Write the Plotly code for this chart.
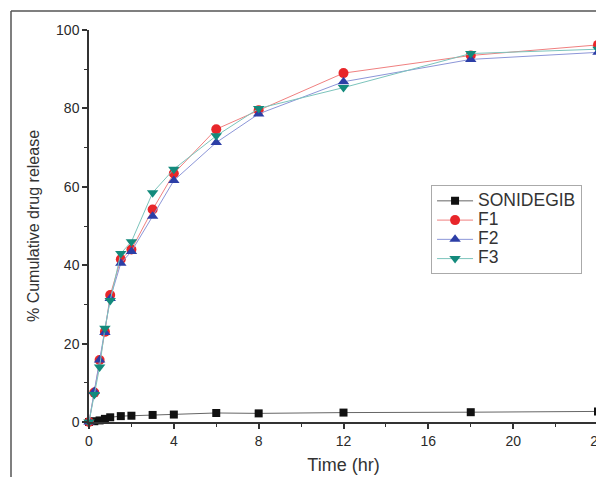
import plotly.graph_objects as go

time_hr = [0, 0.25, 0.5, 0.75, 1, 1.5, 2, 3, 4, 6, 8, 12, 18, 24]
sonidegib = [0, 0.2, 0.4, 0.8, 1.2, 1.5, 1.6, 1.8, 1.9, 2.3, 2.2, 2.4, 2.5, 2.7]
f1 = [0, 7.5, 15.8, 23.0, 32.4, 41.5, 44.0, 54.2, 63.4, 74.7, 79.5, 89.0, 93.5, 96.2]
f2 = [0, 7.8, 15.8, 22.8, 31.5, 40.5, 43.5, 52.5, 61.6, 71.3, 78.6, 86.8, 92.5, 94.3]
f3 = [0, 7.0, 14.0, 23.9, 31.0, 43.0, 46.0, 58.5, 64.5, 73.0, 80.0, 85.3, 94.0, 95.1]

series = [
    ("SONIDEGIB", sonidegib, "#111111", "square", "#666666", 8),
    ("F1", f1, "#e8262a", "circle", "#f08080", 10),
    ("F2", f2, "#2c3ea6", "triangle-up", "#8c96d8", 10),
    ("F3", f3, "#138a7c", "triangle-down", "#7cc4bc", 10),
]

fig = go.Figure()
for name, vals, mcol, sym, lcol, msize in series:
    fig.add_trace(go.Scatter(
        x=time_hr, y=vals,
        name=f"<span style='font-size:17.5px'>{name}</span>",
        mode="lines+markers",
        line=dict(color=lcol, width=1),
        marker=dict(symbol=sym, size=msize, color=mcol, line=dict(width=0)),
        cliponaxis=False,
    ))

axis_common = dict(
    showline=True, linecolor="#333333", linewidth=1.5,
    ticks="outside", ticklen=5, tickwidth=1.5, tickcolor="#333333",
    showgrid=False, zeroline=False, automargin=False,
    tickfont=dict(family="Arial, Liberation Sans", size=14, color="#2a2a2a"),
    minor=dict(ticks="outside", ticklen=3, tickwidth=1.2, tickcolor="#333333"),
)

# page body has an 8px margin, so the figure is laid out 8px up/left
L, T, R, B = 81, 22, 14, 63
W, H = 604, 477
pw, ph = W - L - R, H - T - B

fig.update_layout(
    width=W, height=H,
    margin=dict(l=L, r=R, t=T, b=B),
    plot_bgcolor="white", paper_bgcolor="white",
    font=dict(family="Arial, Liberation Sans", color="#333333"),
    xaxis=dict(range=[0, 24], tickvals=[0, 4, 8, 12, 16, 20, 24],
               title=dict(text="Time (hr)", font=dict(size=18), standoff=11),
               **axis_common),
    yaxis=dict(range=[0, 100], tickvals=[0, 20, 40, 60, 80, 100],
               title=dict(text="% Cumulative drug release", font=dict(size=16), standoff=12),
               **axis_common),
    showlegend=True,
    legend=dict(x=0.672, y=0.604, xanchor="left", yanchor="top",
                bordercolor="#aaaaaa", borderwidth=1, bgcolor="white",
                font=dict(size=12.5, color="#333333"), tracegroupgap=0,
                itemwidth=36),
)
fig.update_xaxes(minor=dict(tickvals=[2, 6, 10, 14, 18, 22]))
fig.update_yaxes(minor=dict(tickvals=[10, 30, 50, 70, 90]))

# outer frame (top and left edges), 3px from figure top-left
fx = (3 - L) / pw
fy = (H - B - 3) / ph
fig.add_shape(type="line", xref="paper", yref="paper",
              x0=fx, x1=1.05, y0=fy, y1=fy,
              line=dict(color="#555555", width=1.5))
fig.add_shape(type="line", xref="paper", yref="paper",
              x0=fx, x1=fx, y0=fy, y1=-0.2,
              line=dict(color="#555555", width=1.5))

fig.write_html("out.html")
